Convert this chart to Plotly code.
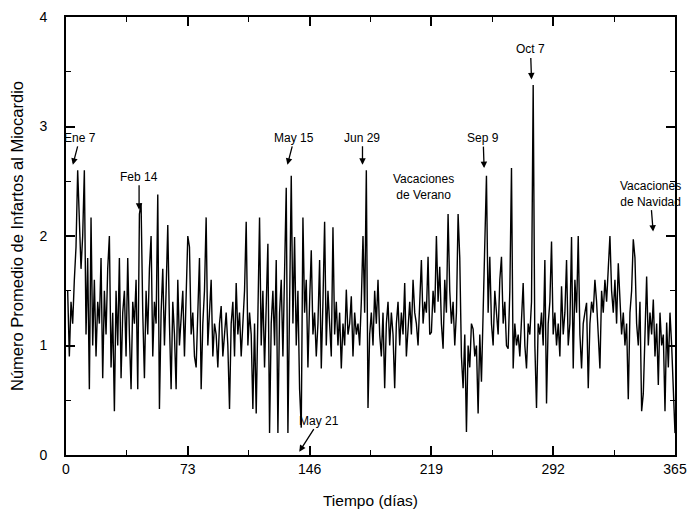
import plotly.graph_objects as go

days = list(range(1, 366))
values = [
    1.5, 0.9, 1.4, 1.2, 1.6, 1.9, 2.6, 2.2, 1.7, 2.0,
    2.6, 1.1, 1.8, 0.6, 2.17, 1.0, 1.6, 0.9, 1.4, 1.2,
    1.8, 0.7, 1.5, 1.1, 1.7, 2.0, 0.8, 1.3, 0.4, 1.5,
    1.0, 1.8, 0.7, 1.3, 1.5, 0.9, 1.8, 1.1, 0.6, 1.4,
    1.2, 1.6, 0.6, 2.2, 2.3, 1.3, 0.7, 1.5, 1.1, 1.7,
    2.0, 0.9, 1.4, 1.2, 2.38, 0.42, 1.3, 1.7, 1.0, 1.5,
    2.1, 1.2, 0.6, 1.4, 1.1, 0.6, 1.6, 1.0, 1.3, 1.5,
    0.9, 1.4, 2.0, 1.9, 1.1, 1.3, 0.9, 0.8, 1.4, 1.8,
    0.6, 1.2, 1.5, 2.17, 1.0, 1.3, 1.6, 0.9, 1.2, 1.1,
    0.8, 1.2, 1.36, 0.9, 1.1, 1.3, 1.0, 0.42, 1.2, 1.4,
    0.9, 1.57, 1.1, 1.3, 0.9, 1.2, 1.5, 2.13, 1.0, 1.3,
    1.1, 0.42, 1.2, 0.38, 1.4, 2.17, 1.0, 1.5, 0.8, 1.3,
    1.93, 0.2, 1.2, 1.5, 1.0, 1.78, 0.2, 1.3, 1.6, 0.9,
    1.57, 2.44, 0.2, 1.4, 2.55, 1.2, 1.99, 1.0, 1.5, 0.6,
    0.25, 2.17, 1.3, 1.6, 0.8, 1.4, 1.87, 1.1, 1.3, 0.9,
    1.2, 1.78, 0.79, 1.4, 2.13, 1.0, 1.5, 1.2, 0.9, 2.08,
    1.1, 1.4, 1.0, 1.3, 0.79, 1.2, 1.0, 1.51, 1.1, 1.2,
    1.45, 0.9, 1.3, 1.1, 1.2, 1.0, 1.4, 2.0, 1.3, 2.6,
    0.43, 1.1, 1.3, 1.0, 1.5, 1.2, 1.6, 1.1, 0.9, 1.3,
    0.61, 1.2, 1.4, 1.0, 1.3, 1.1, 0.61, 1.2, 1.4, 1.0,
    1.3, 1.1, 1.57, 0.9, 1.2, 1.4, 1.1, 1.6, 1.3, 1.2,
    1.0, 1.5, 1.78, 1.2, 1.4, 1.3, 1.81, 1.1, 1.12, 1.5,
    1.3, 2.0, 1.4, 1.72, 1.2, 0.97, 1.6, 1.3, 2.2, 1.5,
    1.2, 1.4, 1.0, 1.3, 2.2, 1.8, 0.9, 0.61, 1.1, 0.21,
    1.0, 0.8, 1.2, 1.15, 0.9, 1.0, 0.38, 1.1, 0.67, 1.3,
    1.9, 2.55, 1.3, 1.81, 1.2, 1.0, 1.5, 1.3, 1.1, 1.6,
    1.81, 1.2, 1.4, 1.0, 0.97, 1.5, 2.62, 0.79, 1.2, 1.0,
    1.1, 0.9, 1.3, 1.57, 1.0, 0.79, 1.2, 1.1, 1.4, 3.38,
    1.0, 0.43, 1.2, 1.1, 1.3, 1.0, 1.78, 0.47, 1.2, 1.4,
    1.95, 1.1, 1.3, 1.0, 1.2, 0.9, 1.54, 1.1, 1.3, 1.78,
    1.0, 1.2, 1.99, 0.79, 1.6, 1.3, 2.0, 1.1, 0.79, 1.2,
    1.3, 1.39, 0.61, 1.2, 1.4, 1.3, 1.6, 1.4, 1.1, 0.79,
    1.5, 1.3, 1.6, 1.4, 1.7, 2.0, 1.5, 1.3, 1.6, 1.2,
    1.75, 1.4, 1.1, 1.3, 1.0, 1.2, 0.51, 1.3, 1.5, 1.97,
    1.8, 1.2, 1.0, 1.4, 0.4, 0.56, 1.2, 1.63, 1.0, 1.3,
    1.1, 1.42, 0.9, 1.2, 0.64, 1.3, 1.0, 1.1, 0.4, 1.21,
    0.8, 1.3, 1.0, 0.5, 0.2,
]

x_ticks = [0, 73, 146, 219, 292, 365]
y_ticks = [0, 1, 2, 3, 4]

# annotation labels: (text, tip day, tip value, ax, ay)
arrow_labels = ["Ene 7", "Feb 14", "May 15", "Jun 29", "Sep 9", "Oct 7",
                "Vacaciones<br>de Navidad", "May 21"]
arrow_days = [4.1, 43.8, 132.7, 177.7, 250.6, 279.0, 351.9, 139.8]
arrow_vals = [2.65, 2.24, 2.65, 2.65, 2.62, 3.43, 2.04, 0.03]
arrow_ax = [7, 0, 7, 0, -1, -1, -3, 20]
arrow_ay = [-27, -33, -27, -27, -30, -30, -38, -31]

text_labels = ["Vacaciones<br>de Verano"]
text_days = [214.5]
text_vals = [2.45]

FONT = "Liberation Sans, Arial, sans-serif"

fig = go.Figure()
fig.add_trace(go.Scatter(x=days, y=values, mode="lines",
                         line=dict(color="black", width=1.4),
                         showlegend=False))

annotations = []
for t, d, v, ax, ay in zip(arrow_labels, arrow_days, arrow_vals, arrow_ax, arrow_ay):
    annotations.append(dict(x=d, y=v, text=t, showarrow=True, ax=ax, ay=ay,
                            arrowhead=2, arrowsize=1, arrowwidth=1.3,
                            arrowcolor="black", standoff=0,
                            font=dict(family=FONT, size=12, color="black")))
for t, d, v in zip(text_labels, text_days, text_vals):
    annotations.append(dict(x=d, y=v, text=t, showarrow=False,
                            font=dict(family=FONT, size=12, color="black")))

axis_common = dict(showline=True, linecolor="black", linewidth=2, mirror="ticks",
                   ticks="inside", ticklen=9, tickwidth=1.5, tickcolor="black",
                   showgrid=False, zeroline=False,
                   tickfont=dict(family=FONT, size=14, color="black"))

fig.update_layout(
    width=696, height=516,
    margin=dict(l=66, r=14, t=9, b=61),
    paper_bgcolor="white", plot_bgcolor="white",
    font=dict(family=FONT, color="black"),
    annotations=annotations,
    xaxis=dict(range=[0, 365], tickvals=x_ticks, ticktext=[str(v) for v in x_ticks],
               minor=dict(dtick=36.5, tick0=0, ticks="inside", ticklen=5,
                          tickcolor="black", tickwidth=1.2),
               title=dict(text="Tiempo (días)", font=dict(family=FONT, size=15.5),
                          standoff=19),
               **axis_common),
    yaxis=dict(range=[0, 4], tickvals=y_ticks, ticktext=[str(v) for v in y_ticks],
               minor=dict(dtick=0.5, tick0=0, ticks="inside", ticklen=5,
                          tickcolor="black", tickwidth=1.2),
               ticklabelstandoff=14,
               title=dict(text="Número Promedio de Infartos al Miocardio",
                          font=dict(family=FONT, size=16.5), standoff=12),
               **axis_common),
)

fig.write_html("out.html")
